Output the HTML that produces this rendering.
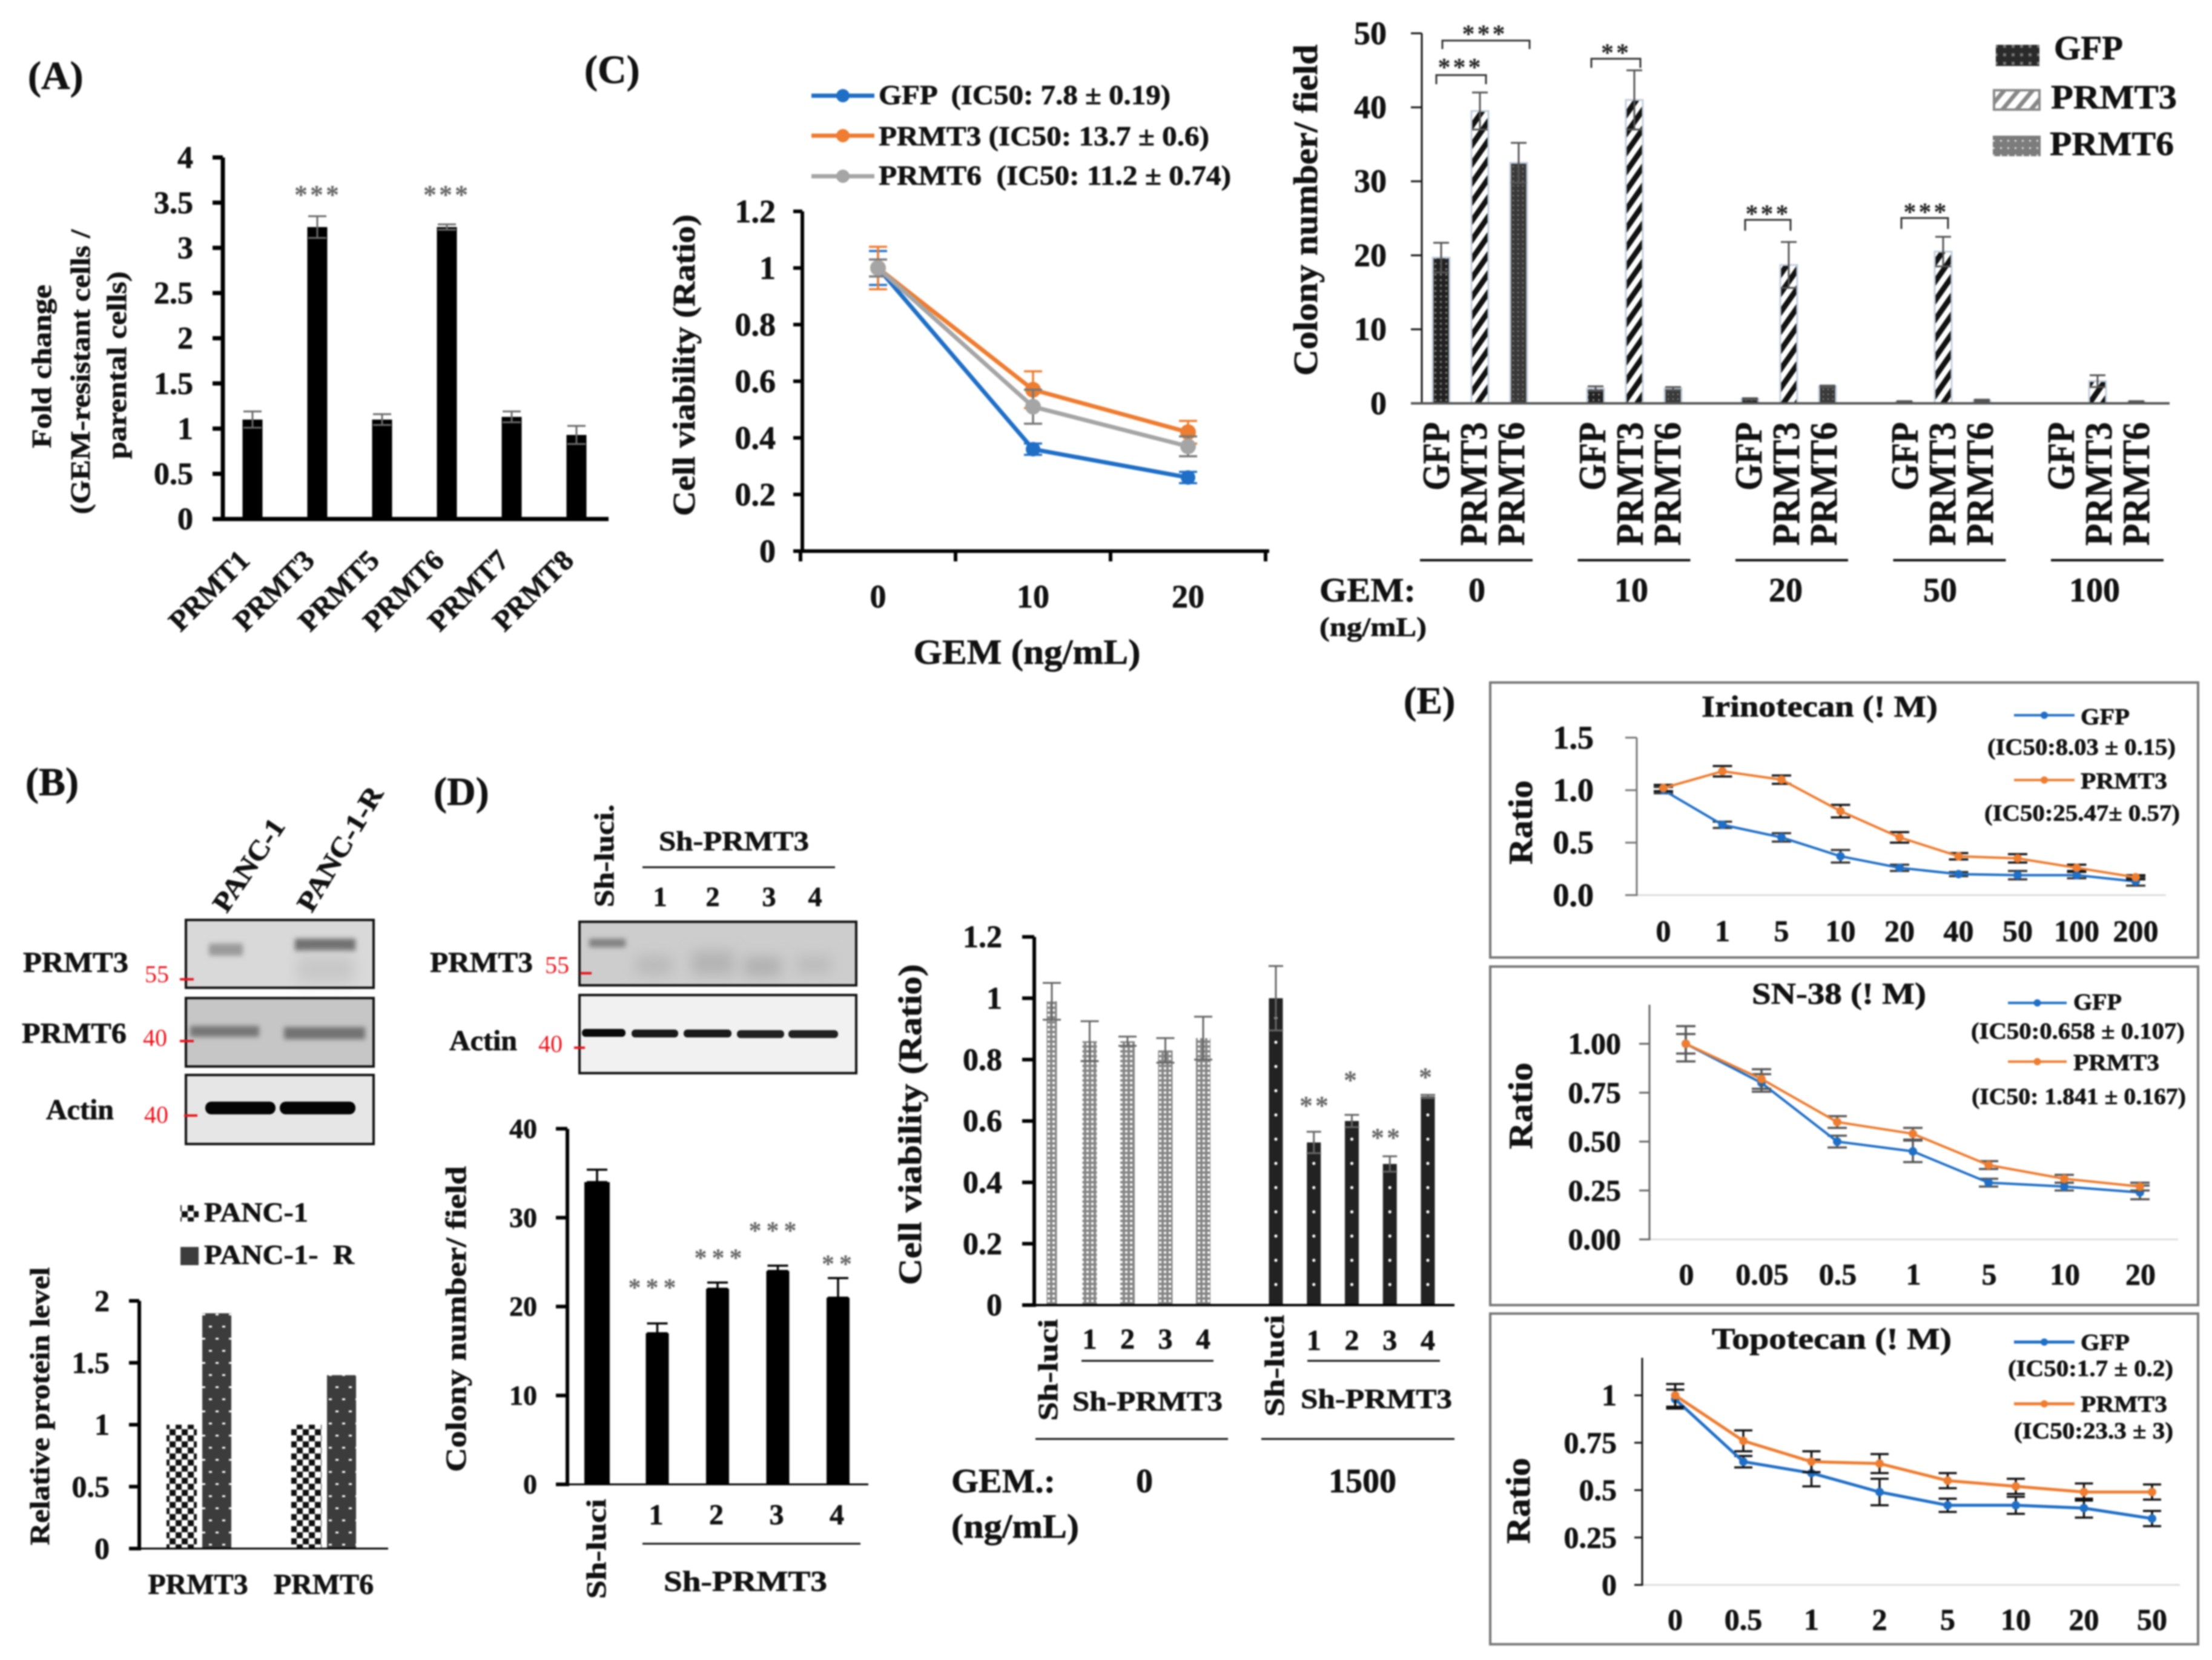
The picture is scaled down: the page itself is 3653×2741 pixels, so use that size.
<!DOCTYPE html>
<html lang="en">
<head>
<meta charset="utf-8">
<title>PRMT3 figure</title>
<style>
html,body{margin:0;padding:0;background:#fff;}
#figure{display:block;filter:blur(1.2px);}
text{font-family:"Liberation Serif",serif;font-weight:bold;fill:#111;stroke:#111;stroke-width:0.7px;white-space:pre;}
text.red{fill:#e8141c;font-weight:normal;stroke:none;}
text.star{fill:#666;letter-spacing:4px;stroke:none;}
</style>
</head>
<body>
<svg id="figure" width="3653" height="2741" viewBox="0 0 3653 2741">
<defs>
<filter id="soft" x="-20%" y="-80%" width="140%" height="260%"><feGaussianBlur stdDeviation="4"/></filter>
<filter id="wide" x="-40%" y="-80%" width="180%" height="260%"><feGaussianBlur stdDeviation="11"/></filter>
<pattern id="gfp-dots" width="9" height="9" patternUnits="userSpaceOnUse"><rect width="9" height="9" fill="#222"/><rect x="2" y="2" width="3" height="3" fill="#888"/></pattern>
<pattern id="p3-stripes" width="18" height="18" patternUnits="userSpaceOnUse" patternTransform="rotate(35)"><rect width="18" height="18" fill="#fff"/><rect width="9" height="18" fill="#111"/></pattern>
<pattern id="p6-dots" width="8" height="8" patternUnits="userSpaceOnUse"><rect width="8" height="8" fill="#3a3a3a"/><rect x="2" y="2" width="2" height="2" fill="#999"/></pattern>
<pattern id="p6-legend" width="12" height="12" patternUnits="userSpaceOnUse"><rect width="12" height="12" fill="#7c7c7c"/><rect x="3" y="3" width="3" height="3" fill="#ddd"/></pattern>
<pattern id="gfp-legend" width="14" height="14" patternUnits="userSpaceOnUse"><rect width="14" height="14" fill="#2a2a2a"/><rect x="4" y="4" width="5" height="5" fill="#777"/></pattern>
<pattern id="legend-stripes" width="18" height="18" patternUnits="userSpaceOnUse" patternTransform="rotate(40)"><rect width="18" height="18" fill="#fff"/><rect width="7" height="18" fill="#888"/></pattern>
<pattern id="checker" width="20" height="20" patternUnits="userSpaceOnUse"><rect width="20" height="20" fill="#fff"/><rect width="10" height="10" fill="#111"/><rect x="10" y="10" width="10" height="10" fill="#111"/></pattern>
<pattern id="dark-dots" width="22" height="40" patternUnits="userSpaceOnUse"><rect width="22" height="40" fill="#3c3c3c"/><rect x="4" y="9" width="5" height="3" fill="#fff"/><rect x="15" y="29" width="5" height="3" fill="#fff"/></pattern>
<pattern id="gray-check" width="8" height="8" patternUnits="userSpaceOnUse"><rect width="8" height="8" fill="#858585"/><rect x="2" y="2" width="4" height="4" fill="#fff"/></pattern>
</defs>

<!-- Panel labels -->
<text x="46" y="147" font-size="66">(A)</text>
<text x="42" y="1313" font-size="66">(B)</text>
<text x="965" y="137" font-size="66">(C)</text>
<text x="716" y="1329" font-size="66">(D)</text>
<text x="2318" y="1178" font-size="64">(E)</text>

<!-- Panel A -->
<g id="panel-a">
<text transform="rotate(-90 84 605)" x="84" y="605" text-anchor="middle" font-size="46" textLength="270" lengthAdjust="spacingAndGlyphs">Fold change</text>
<text transform="rotate(-90 148 614)" x="148" y="614" text-anchor="middle" font-size="46" textLength="470" lengthAdjust="spacingAndGlyphs">(GEM-resistant cells /</text>
<text transform="rotate(-90 208 603)" x="208" y="603" text-anchor="middle" font-size="46" textLength="310" lengthAdjust="spacingAndGlyphs">parental cells)</text>
<text class="star" x="525" y="336" text-anchor="middle" font-size="44">***</text>
<text class="star" x="738" y="336" text-anchor="middle" font-size="44">***</text>
</g>

<!-- Panel C line chart -->
<g id="panel-c-line">
<text transform="rotate(-90 1147 603)" x="1147" y="603" text-anchor="middle" font-size="52" textLength="498" lengthAdjust="spacingAndGlyphs">Cell viability (Ratio)</text>
<text x="1696" y="1096" text-anchor="middle" font-size="58" textLength="375" lengthAdjust="spacingAndGlyphs">GEM (ng/mL)</text>
<text x="1451" y="172" font-size="46" textLength="482" lengthAdjust="spacingAndGlyphs">GFP  (IC50: 7.8 ± 0.19)</text>
<text x="1451" y="240" font-size="46" textLength="546" lengthAdjust="spacingAndGlyphs">PRMT3 (IC50: 13.7 ± 0.6)</text>
<text x="1451" y="305" font-size="46" textLength="582" lengthAdjust="spacingAndGlyphs">PRMT6  (IC50: 11.2 ± 0.74)</text>
</g>

<!-- Panel C colony chart -->
<g id="panel-c-bars">
<text transform="rotate(-90 2175 347)" x="2175" y="347" text-anchor="middle" font-size="56" textLength="547" lengthAdjust="spacingAndGlyphs">Colony number/ field</text>
<text x="2179" y="993" font-size="56" textLength="159" lengthAdjust="spacingAndGlyphs">GEM:</text>
<text x="2179" y="1050" font-size="44" textLength="177" lengthAdjust="spacingAndGlyphs">(ng/mL)</text>
<rect x="3296" y="74" width="72" height="35" fill="url(#gfp-legend)"/>
<rect x="3293" y="149" width="75" height="32" fill="url(#legend-stripes)" stroke="#888" stroke-width="4"/>
<rect x="3291" y="224" width="79" height="34" fill="url(#p6-legend)"/>
<text x="3392" y="98" font-size="56" font-weight="normal" textLength="114" lengthAdjust="spacingAndGlyphs">GFP</text>
<text x="3387" y="179" font-size="56" textLength="208" lengthAdjust="spacingAndGlyphs">PRMT3</text>
<text x="3385" y="256" font-size="56" textLength="205" lengthAdjust="spacingAndGlyphs">PRMT6</text>
<path d="M2382 81V67H2526V81" fill="none" stroke="#333" stroke-width="3"/>
<path d="M2372 139V124H2454V139" fill="none" stroke="#333" stroke-width="3"/>
<path d="M2628 112V97H2709V112" fill="none" stroke="#333" stroke-width="3"/>
<path d="M2882 381V363H2957V381" fill="none" stroke="#333" stroke-width="3"/>
<path d="M3140 378V360H3217V378" fill="none" stroke="#333" stroke-width="3"/>
<text class="star" style="fill:#222" x="2452" y="70" text-anchor="middle" font-size="42">***</text>
<text class="star" style="fill:#222" x="2412" y="125" text-anchor="middle" font-size="42">***</text>
<text class="star" style="fill:#222" x="2669" y="101" text-anchor="middle" font-size="42">**</text>
<text class="star" style="fill:#222" x="2920" y="367" text-anchor="middle" font-size="42">***</text>
<text class="star" style="fill:#222" x="3181" y="364" text-anchor="middle" font-size="42">***</text>
</g>

<!-- Panel B blots -->
<g>
<text transform="rotate(-56 362 1501)" x="362" y="1516" font-size="46" textLength="175" lengthAdjust="spacingAndGlyphs" font-weight="normal">PANC-1</text>
<text transform="rotate(-59 502 1501)" x="502" y="1516" font-size="46" textLength="232" lengthAdjust="spacingAndGlyphs" font-weight="normal">PANC-1-R</text>
<rect x="307" y="1519" width="310" height="112" fill="#d9d9d9"/>
<rect x="345" y="1558" width="56" height="20" fill="#9a9a9a" filter="url(#soft)"/>
<rect x="487" y="1550" width="100" height="20" fill="#6e6e6e" filter="url(#soft)"/>
<rect x="490" y="1578" width="95" height="44" fill="#c8c8c8" filter="url(#wide)"/>
<rect x="307" y="1519" width="310" height="112" fill="none" stroke="#111" stroke-width="4"/>
<rect x="307" y="1648" width="310" height="113" fill="#c6c6c6"/>
<rect x="314" y="1694" width="114" height="18" fill="#767676" filter="url(#soft)"/>
<rect x="469" y="1696" width="134" height="20" fill="#727272" filter="url(#soft)"/>
<rect x="307" y="1648" width="310" height="113" fill="none" stroke="#111" stroke-width="4"/>
<rect x="307" y="1775" width="310" height="114" fill="#e6e6e6"/>
<rect x="339" y="1819" width="116" height="21" rx="10" fill="#050505"/>
<rect x="462" y="1819" width="125" height="21" rx="10" fill="#050505"/>
<rect x="307" y="1775" width="310" height="114" fill="none" stroke="#111" stroke-width="4"/>
<text x="38" y="1605" font-size="48" textLength="174" lengthAdjust="spacingAndGlyphs">PRMT3</text>
<text x="36" y="1722" font-size="48" textLength="173" lengthAdjust="spacingAndGlyphs">PRMT6</text>
<text x="76" y="1848" font-size="48" textLength="112" lengthAdjust="spacingAndGlyphs">Actin</text>
<text class="red" x="239" y="1622" font-size="40">55</text>
<text class="red" x="236" y="1727" font-size="40">40</text>
<text class="red" x="238" y="1854" font-size="40">40</text>
<line x1="297" x2="320" y1="1617" y2="1617" stroke="#e8141c" stroke-width="4"/>
<line x1="297" x2="320" y1="1719" y2="1719" stroke="#e8141c" stroke-width="4"/>
<line x1="304" x2="326" y1="1842" y2="1842" stroke="#e8141c" stroke-width="4"/>
</g>

<!-- Panel B chart -->
<g id="panel-b">
<text transform="rotate(-90 81 2322)" x="81" y="2322" text-anchor="middle" font-size="46" font-weight="normal" textLength="459" lengthAdjust="spacingAndGlyphs">Relative protein level</text>
<rect x="298" y="1990" width="30" height="27" fill="url(#checker)"/>
<rect x="298" y="2059" width="30" height="30" fill="#3c3c3c"/>
<text x="337" y="2017" font-size="46" textLength="172" lengthAdjust="spacingAndGlyphs">PANC-1</text>
<text x="337" y="2087" font-size="46" textLength="248" lengthAdjust="spacingAndGlyphs">PANC-1-  R</text>
</g>

<!-- Panel D blots -->
<g>
<text transform="rotate(-90 1013 1498)" x="1013" y="1498" font-size="46" font-weight="normal" textLength="170" lengthAdjust="spacingAndGlyphs">Sh-luci.</text>
<text x="1088" y="1404" font-size="46" textLength="248" lengthAdjust="spacingAndGlyphs">Sh-PRMT3</text>
<line x1="1061" x2="1379" y1="1432" y2="1432" stroke="#111" stroke-width="3"/>
<text x="1090" y="1496" text-anchor="middle" font-size="46">1</text>
<text x="1177" y="1496" text-anchor="middle" font-size="46">2</text>
<text x="1270" y="1496" text-anchor="middle" font-size="46">3</text>
<text x="1346" y="1496" text-anchor="middle" font-size="46">4</text>
<rect x="957" y="1522" width="457" height="105" fill="#cdcdcd"/>
<rect x="973" y="1550" width="60" height="14" fill="#808080" filter="url(#soft)"/>
<rect x="1050" y="1578" width="60" height="32" fill="#bababa" filter="url(#wide)"/>
<rect x="1142" y="1570" width="70" height="40" fill="#b4b4b4" filter="url(#wide)"/>
<rect x="1228" y="1580" width="62" height="32" fill="#b0b0b0" filter="url(#wide)"/>
<rect x="1315" y="1578" width="58" height="30" fill="#bcbcbc" filter="url(#wide)"/>
<rect x="957" y="1522" width="457" height="105" fill="none" stroke="#111" stroke-width="4"/>
<rect x="957" y="1643" width="457" height="129" fill="#f1f1f1"/>
<rect x="961" y="1699" width="72" height="13" rx="6" fill="#0a0a0a"/>
<rect x="1043" y="1700" width="77" height="13" rx="6" fill="#1a1a1a"/>
<rect x="1129" y="1700" width="79" height="13" rx="6" fill="#1a1a1a"/>
<rect x="1217" y="1701" width="78" height="13" rx="6" fill="#222"/>
<rect x="1302" y="1701" width="82" height="13" rx="6" fill="#222"/>
<rect x="957" y="1643" width="457" height="129" fill="none" stroke="#111" stroke-width="4"/>
<text x="710" y="1605" font-size="48" textLength="170" lengthAdjust="spacingAndGlyphs">PRMT3</text>
<text x="742" y="1734" font-size="48" textLength="112" lengthAdjust="spacingAndGlyphs">Actin</text>
<text class="red" x="900" y="1607" font-size="40">55</text>
<text class="red" x="889" y="1737" font-size="40">40</text>
<line x1="958" x2="977" y1="1607" y2="1607" stroke="#e8141c" stroke-width="4"/>
<line x1="948" x2="966" y1="1730" y2="1730" stroke="#e8141c" stroke-width="4"/>
</g>

<!-- Panel D colony chart -->
<g id="panel-d-colony">
<text transform="rotate(-90 769 2178)" x="769" y="2178" text-anchor="middle" font-size="48" font-weight="normal" textLength="505" lengthAdjust="spacingAndGlyphs">Colony number/ field</text>
<line x1="1061" x2="1421" y1="2549" y2="2549" stroke="#111" stroke-width="3"/>
<text x="1096" y="2627" font-size="48" textLength="270" lengthAdjust="spacingAndGlyphs">Sh-PRMT3</text>
<text class="star" x="1081" y="2140" text-anchor="middle" font-size="42" style="letter-spacing:8px">***</text>
<text class="star" x="1190" y="2091" text-anchor="middle" font-size="42" style="letter-spacing:8px">***</text>
<text class="star" x="1280" y="2046" text-anchor="middle" font-size="42" style="letter-spacing:8px">***</text>
<text class="star" x="1386" y="2101" text-anchor="middle" font-size="42" style="letter-spacing:8px">**</text>
</g>

<!-- Panel D viability chart -->
<g id="panel-d-viability">
<text transform="rotate(-90 1521 1857)" x="1521" y="1857" text-anchor="middle" font-size="54" textLength="530" lengthAdjust="spacingAndGlyphs">Cell viability (Ratio)</text>
<line x1="1786" x2="2004" y1="2247" y2="2247" stroke="#111" stroke-width="3"/>
<line x1="2159" x2="2378" y1="2247" y2="2247" stroke="#111" stroke-width="3"/>
<text x="1771" y="2329" font-size="46" textLength="248" lengthAdjust="spacingAndGlyphs">Sh-PRMT3</text>
<text x="2148" y="2325" font-size="46" textLength="250" lengthAdjust="spacingAndGlyphs">Sh-PRMT3</text>
<line x1="1710" x2="2028" y1="2376" y2="2376" stroke="#111" stroke-width="3"/>
<line x1="2083" x2="2402" y1="2376" y2="2376" stroke="#111" stroke-width="3"/>
<text x="1571" y="2464" font-size="56" textLength="172" lengthAdjust="spacingAndGlyphs">GEM.:</text>
<text x="1890" y="2464" text-anchor="middle" font-size="56">0</text>
<text x="2250" y="2464" text-anchor="middle" font-size="56">1500</text>
<text x="1571" y="2539" font-size="56" textLength="211" lengthAdjust="spacingAndGlyphs">(ng/mL)</text>
<text class="star" x="2172" y="1840" text-anchor="middle" font-size="44">**</text>
<text class="star" x="2232" y="1798" text-anchor="middle" font-size="44">*</text>
<text class="star" x="2290" y="1893" text-anchor="middle" font-size="44">**</text>
<text class="star" x="2356" y="1793" text-anchor="middle" font-size="44">*</text>
</g>

<!-- Panel E -->
<g id="panel-e-irinotecan">
<rect x="2461" y="1127" width="1169" height="454" fill="none" stroke="#777" stroke-width="4"/>
<text x="2810" y="1183" font-size="50" textLength="390" lengthAdjust="spacingAndGlyphs">Irinotecan (! M)</text>
<text transform="rotate(-90 2530 1358)" x="2530" y="1358" text-anchor="middle" font-size="56" textLength="139" lengthAdjust="spacingAndGlyphs">Ratio</text>
<text x="3436" y="1196" font-size="38" textLength="81" lengthAdjust="spacingAndGlyphs">GFP</text>
<text x="3282" y="1246" font-size="38" textLength="311" lengthAdjust="spacingAndGlyphs">(IC50:8.03 ± 0.15)</text>
<text x="3436" y="1302" font-size="38" textLength="143" lengthAdjust="spacingAndGlyphs">PRMT3</text>
<text x="3277" y="1355" font-size="38" textLength="323" lengthAdjust="spacingAndGlyphs">(IC50:25.47± 0.57)</text>
</g>
<g id="panel-e-sn38">
<rect x="2461" y="1596" width="1169" height="559" fill="none" stroke="#777" stroke-width="4"/>
<text x="2893" y="1657" font-size="50" textLength="288" lengthAdjust="spacingAndGlyphs">SN-38 (! M)</text>
<text transform="rotate(-90 2530 1826)" x="2530" y="1826" text-anchor="middle" font-size="56" textLength="143" lengthAdjust="spacingAndGlyphs">Ratio</text>
<text x="3424" y="1667" font-size="38" textLength="80" lengthAdjust="spacingAndGlyphs">GFP</text>
<text x="3255" y="1715" font-size="38" textLength="353" lengthAdjust="spacingAndGlyphs">(IC50:0.658 ± 0.107)</text>
<text x="3424" y="1767" font-size="38" textLength="142" lengthAdjust="spacingAndGlyphs">PRMT3</text>
<text x="3256" y="1823" font-size="38" textLength="354" lengthAdjust="spacingAndGlyphs">(IC50: 1.841 ± 0.167)</text>
</g>
<g id="panel-e-topotecan">
<rect x="2461" y="2169" width="1169" height="546" fill="none" stroke="#777" stroke-width="4"/>
<text x="2827" y="2227" font-size="50" textLength="396" lengthAdjust="spacingAndGlyphs">Topotecan (! M)</text>
<text transform="rotate(-90 2526 2478)" x="2526" y="2478" text-anchor="middle" font-size="56" textLength="142" lengthAdjust="spacingAndGlyphs">Ratio</text>
<text x="3436" y="2229" font-size="38" textLength="81" lengthAdjust="spacingAndGlyphs">GFP</text>
<text x="3316" y="2272" font-size="38" textLength="273" lengthAdjust="spacingAndGlyphs">(IC50:1.7 ± 0.2)</text>
<text x="3436" y="2331" font-size="38" textLength="143" lengthAdjust="spacingAndGlyphs">PRMT3</text>
<text x="3326" y="2375" font-size="38" textLength="263" lengthAdjust="spacingAndGlyphs">(IC50:23.3 ± 3)</text>
</g>
</svg>

<script>
// Panel A
const aCategories = ['PRMT1','PRMT3','PRMT5','PRMT6','PRMT7','PRMT8'];
const aValues = [1.1,3.23,1.1,3.23,1.13,0.93];
const aErrors = [0.09,0.12,0.06,0.03,0.06,0.1];
const aTicks = ['0','0.5','1','1.5','2','2.5','3','3.5','4'];

// Panel B chart
const bCategories = ['PRMT3','PRMT6'];
const bPanc1 = [1,1];
const bPanc1R = [1.9,1.4];
const bTicks = ['0','0.5','1','1.5','2'];

// Panel C line chart
const cDoses = ['0','10','20'];
const cGfp = [1,0.36,0.26];
const cGfpErr = [0.06,0.02,0.02];
const cPrmt3 = [1,0.57,0.42];
const cPrmt3Err = [0.075,0.065,0.04];
const cPrmt6 = [1,0.51,0.37];
const cPrmt6Err = [0.03,0.06,0.035];
const cTicks = ['0','0.2','0.4','0.6','0.8','1','1.2'];

// Panel C colony chart
const colonyDoses = ['0','10','20','50','100'];
const colonyCategories = ['GFP','PRMT3','PRMT6'];
const colonyGfp = [19.7,2,0.6,0.2,0];
const colonyGfpErr = [2,0.3,0.1,0.1,0];
const colonyPrmt3 = [39.5,41,18.7,20.5,3];
const colonyPrmt3Err = [2.5,4,3.1,2,0.8];
const colonyPrmt6 = [32.5,2,2.3,0.4,0.2];
const colonyPrmt6Err = [2.7,0.2,0.1,0.1,0.1];
const colonyTicks = ['0','10','20','30','40','50'];

// Panel D colony chart
const dColonyCategories = ['Sh-luci','1','2','3','4'];
const dColonyValues = [34,17,22,24,21];
const dColonyErrors = [1.4,1.1,0.7,0.6,2.2];
const dColonyTicks = ['0','10','20','30','40'];

// Panel D viability chart
const dViabCategories = ['Sh-luci','1','2','3','4'];
const dViabDose0 = [0.99,0.86,0.86,0.83,0.87];
const dViabDose0Err = [0.06,0.065,0.015,0.04,0.07];
const dViabDose1500 = [1,0.53,0.6,0.46,0.68];
const dViabDose1500Err = [0.105,0.035,0.02,0.025,0.005];
const dViabTicks = ['0','0.2','0.4','0.6','0.8','1','1.2'];

// Panel E
const irinoDoses = ['0','1','5','10','20','40','50','100','200'];
const irinoGfp = [1,0.67,0.55,0.37,0.26,0.2,0.19,0.19,0.13];
const irinoGfpErr = [0.03,0.03,0.04,0.06,0.03,0.02,0.04,0.03,0.04];
const irinoPrmt3 = [1.02,1.18,1.1,0.8,0.55,0.37,0.35,0.26,0.17];
const irinoPrmt3Err = [0.03,0.05,0.04,0.06,0.05,0.03,0.04,0.03,0.02];
const irinoTicks = ['0.0','0.5','1.0','1.5'];

const snDoses = ['0','0.05','0.5','1','5','10','20'];
const snGfp = [1,0.8,0.5,0.45,0.29,0.27,0.24];
const snGfpErr = [0.09,0.045,0.03,0.055,0.02,0.02,0.035];
const snPrmt3 = [1,0.82,0.6,0.54,0.38,0.31,0.27];
const snPrmt3Err = [0.05,0.05,0.03,0.03,0.02,0.02,0.02];
const snTicks = ['0.00','0.25','0.50','0.75','1.00'];

const topoDoses = ['0','0.5','1','2','5','10','20','50'];
const topoGfp = [0.98,0.65,0.59,0.49,0.42,0.42,0.405,0.35];
const topoGfpErr = [0.05,0.03,0.07,0.07,0.035,0.045,0.05,0.04];
const topoPrmt3 = [1,0.76,0.65,0.64,0.55,0.52,0.49,0.49];
const topoPrmt3Err = [0.06,0.055,0.055,0.05,0.04,0.04,0.045,0.04];
const topoTicks = ['0','0.25','0.5','0.75','1'];

const SVG_NS = 'http://www.w3.org/2000/svg';
function make(tag, attrs, parent) {
  const el = document.createElementNS(SVG_NS, tag);
  for (const k in attrs) el.setAttribute(k, attrs[k]);
  parent.appendChild(el);
  return el;
}
function drawBar(parent, x, w, yTop, yBase, fill, edge) {
  const el = make('rect', {x: x - w / 2, y: yTop, width: w, height: Math.max(0, yBase - yTop), fill: fill}, parent);
  if (edge) { el.setAttribute('stroke', edge); el.setAttribute('stroke-width', 3); }
  
  
  return el;
}
function drawError(parent, x, yHi, yLo, cap, color, sw) {
  const g = make('g', {stroke: color, 'stroke-width': sw, fill: 'none'}, parent);
  
  
  make('line', {x1: x, x2: x, y1: yHi, y2: yLo}, g);
  make('line', {x1: x - cap / 2, x2: x + cap / 2, y1: yHi, y2: yHi}, g);
  make('line', {x1: x - cap / 2, x2: x + cap / 2, y1: yLo, y2: yLo}, g);
}
function drawYAxis(parent, ticks, yFn, axisX, axisTop, tickX, labelX, size, color, sw) {
  const axis = make('line', {x1: axisX, x2: axisX, y1: axisTop, y2: yFn(0) + sw / 2, stroke: color, 'stroke-width': sw}, parent);
  
  
  ticks.forEach(function (label) {
    const y = yFn(parseFloat(label));
    const tick = make('line', {x1: tickX, x2: axisX, y1: y, y2: y, stroke: color, 'stroke-width': sw}, parent);
    
    
    const text = make('text', {x: labelX, y: y + size * 0.33, 'text-anchor': 'end', 'font-size': size}, parent);
    text.textContent = label;
    
    
  });
}
function drawXAxis(parent, x1, x2, y, color, sw) {
  const axis = make('line', {x1: x1, x2: x2, y1: y, y2: y, stroke: color, 'stroke-width': sw}, parent);
  
  
}
function drawXLabel(parent, label, x, y, size) {
  const text = make('text', {x: x, y: y, 'text-anchor': 'middle', 'font-size': size}, parent);
  text.textContent = label;
  
  
  return text;
}
function drawVerticalLabel(parent, label, cx, yStart, size, anchor, len) {
  const bx = cx + size * 0.33;
  const text = make('text', {x: bx, y: yStart, 'text-anchor': anchor, 'font-size': size, transform: 'rotate(-90 ' + bx + ' ' + yStart + ')', textLength: len, lengthAdjust: 'spacingAndGlyphs'}, parent);
  text.textContent = label;
  
  
}
function drawLineSeries(parent, values, errors, xFn, yFn, color, errColor, lw, r, cap, errW) {
  errors.forEach(function (e, i) {
    drawError(parent, xFn(i), yFn(values[i] + e), yFn(values[i] - e), cap, errColor, errW);
  });
  const line = make('polyline', {points: values.map(function (v, i) { return xFn(i) + ',' + yFn(v); }).join(' '), fill: 'none', stroke: color, 'stroke-width': lw, 'stroke-linejoin': 'round'}, parent);
  
  
  values.forEach(function (v, i) {
    const dot = make('circle', {cx: xFn(i), cy: yFn(v), r: r, fill: color}, parent);
    
    
  });
}
function drawLegendKey(parent, x1, x2, y, color, lw, r) {
  const line = make('line', {x1: x1, x2: x2, y1: y, y2: y, stroke: color, 'stroke-width': lw}, parent);
  
  
  const dot = make('circle', {cx: (x1 + x2) / 2, cy: y, r: r, fill: color}, parent);
  
  
}

const BLUE = '#1f6fc6', ORANGE = '#ed7d31', GRAY = '#a5a5a5';

// ---- Panel A ----
(function () {
  const g = document.getElementById('panel-a');
  const y = v => 857 - v * 149.25;
  const x = i => 417 + i * 107;
  aValues.forEach(function (v, i) { drawBar(g, x(i), 33, y(v), y(0), '#000'); });
  aErrors.forEach(function (e, i) { drawError(g, x(i), y(aValues[i] + e), y(aValues[i] - e), 30, '#6a6a6a', 3); });
  drawYAxis(g, aTicks, y, 368, 260, 351, 319, 52, '#000', 7);
  drawXAxis(g, 351, 1005, y(0), '#000', 7);
  aCategories.forEach(function (label, i) {
    const ax = x(i) - 2, ay = 928;
    const t = make('text', {x: ax, y: ay, 'text-anchor': 'end', 'font-size': 48, transform: 'rotate(-45 ' + ax + ' ' + ay + ')'}, g);
    t.textContent = label;
    
    
  });
})();

// ---- Panel B ----
(function () {
  const g = document.getElementById('panel-b');
  const y = v => 2557 - v * 204.5;
  const x = (c, s) => 300 + c * 206 + s * 58;
  bPanc1.forEach(function (v, c) { drawBar(g, x(c, 0), 50, y(v), y(0), 'url(#checker)'); });
  bPanc1R.forEach(function (v, c) { drawBar(g, x(c, 1), 48, y(v), y(0), 'url(#dark-dots)'); });
  drawYAxis(g, bTicks, y, 230, 2148, 213, 181, 50, '#000', 6);
  drawXAxis(g, 213, 641, y(0), '#000', 3);
  bCategories.forEach(function (label, c) { drawXLabel(g, label, 327 + c * 207.5, 2632, 48); });
})();

// ---- Panel C line ----
(function () {
  const g = document.getElementById('panel-c-line');
  const y = v => 910 - v * 467.5;
  const x = i => 1450 + i * 256;
  drawYAxis(g, cTicks, y, 1325, 349, 1310, 1281, 54, '#000', 6);
  drawXAxis(g, 1310, 2096, y(0), '#000', 6);
  for (let i = 0; i <= cDoses.length; i++) {
    const tx = x(i) - 128;
    const tick = make('line', {x1: tx, x2: tx, y1: y(0), y2: 927, stroke: '#000', 'stroke-width': 6}, g);
    
    
  }
  cDoses.forEach(function (label, i) { drawXLabel(g, label, x(i), 1003, 54); });
  drawLineSeries(g, cGfp, cGfpErr, x, y, BLUE, BLUE, 7, 12, 30, 3.5);
  drawLineSeries(g, cPrmt3, cPrmt3Err, x, y, ORANGE, ORANGE, 7, 13, 30, 3.5);
  drawLineSeries(g, cPrmt6, cPrmt6Err, x, y, GRAY, '#777', 7, 13, 30, 3.5);
  drawLegendKey(g, 1340, 1444, 158, BLUE, 7, 11);
  drawLegendKey(g, 1340, 1444, 224, ORANGE, 7, 11);
  drawLegendKey(g, 1340, 1444, 291, GRAY, 7, 11);
})();

// ---- Panel C colony bars ----
(function () {
  const g = document.getElementById('panel-c-bars');
  const y = v => 666 - v * 12.22;
  const x = (d, s) => 2444 + d * 255 + (s - 1) * 64;
  const labelX = (d, s) => 2434 + d * 258 + (s - 1) * 62;
  const series = [
    {values: colonyGfp, errors: colonyGfpErr, fill: 'url(#gfp-dots)'},
    {values: colonyPrmt3, errors: colonyPrmt3Err, fill: 'url(#p3-stripes)'},
    {values: colonyPrmt6, errors: colonyPrmt6Err, fill: 'url(#p6-dots)'}
  ];
  series.forEach(function (s, si) {
    s.values.forEach(function (v, d) {
      if (v > 0) drawBar(g, x(d, si), 28, y(v), y(0), s.fill, '#c3cedb');
    });
  });
  series.forEach(function (s, si) {
    s.errors.forEach(function (e, d) {
      if (e > 0) drawError(g, x(d, si), y(s.values[d] + e), y(Math.max(0, s.values[d] - e)), 26, '#555', 3);
    });
  });
  drawYAxis(g, colonyTicks, y, 2348, 55, 2330, 2290, 54, '#111', 3);
  drawXAxis(g, 2330, 3583, y(0), '#555', 4);
  colonyDoses.forEach(function (dose, d) {
    colonyCategories.forEach(function (label, si) {
      const len = label.length === 3 ? 113 : 204;
      drawVerticalLabel(g, label, labelX(d, si), 697, 64, 'end', len);
    });
    const rule = make('line', {x1: 2345 + d * 260.5, x2: 2531 + d * 260.5, y1: 925, y2: 925, stroke: '#111', 'stroke-width': 4}, g);
    
    
    drawXLabel(g, dose, x(d, 1) - 5, 993, 56);
  });
})();

// ---- Panel D colony ----
(function () {
  const g = document.getElementById('panel-d-colony');
  const y = v => 2451 - v * 14.68;
  const x = i => 986 + i * 99.5;
  dColonyValues.forEach(function (v, i) { drawBar(g, x(i), i === 0 ? 42 : 38, y(v), y(0), '#000'); });
  dColonyErrors.forEach(function (e, i) { drawError(g, x(i), y(dColonyValues[i] + e), y(dColonyValues[i]), 34, '#000', 3.5); });
  drawYAxis(g, dColonyTicks, y, 937, 1864, 918, 887, 46, '#000', 6);
  drawXAxis(g, 918, 1434, y(0), '#000', 3);
  dColonyCategories.forEach(function (label, i) {
    if (i === 0) drawVerticalLabel(g, label, x(i) - 1, 2640, 46, 'start', 165);
    else drawXLabel(g, label, x(i) - 2, 2517, 48);
  });
})();

// ---- Panel D viability ----
(function () {
  const g = document.getElementById('panel-d-viability');
  const y = v => 2155 - v * 506.7;
  const xA = i => 1737 + i * 62.5;
  const xB = i => 2107 + i * 62.75;
  dViabDose0.forEach(function (v, i) { drawBar(g, xA(i), i === 0 ? 17 : 24, y(v), y(0), 'url(#gray-check)'); });
  dViabDose1500.forEach(function (v, i) {
    drawBar(g, xB(i), 23, y(v), y(0), '#222');
    for (let dy = y(0) - 34; dy > y(v) + 8; dy -= 40) {
      const dot = make('circle', {cx: xB(i), cy: dy, r: 2.6, fill: '#fff'}, g);
      
      
    }
  });
  dViabDose0Err.forEach(function (e, i) { drawError(g, xA(i), y(dViabDose0[i] + e), y(dViabDose0[i] - e), 30, '#666', 3); });
  dViabDose1500Err.forEach(function (e, i) { drawError(g, xB(i), y(dViabDose1500[i] + e), y(dViabDose1500[i] - e), 24, '#666', 3); });
  drawYAxis(g, dViabTicks, y, 1708, 1547, 1688, 1655, 52, '#000', 6);
  drawXAxis(g, 1688, 2402, y(0), '#000', 4);
  dViabCategories.forEach(function (label, i) {
    if (i === 0) {
      drawVerticalLabel(g, label, xA(i) - 6, 2346, 46, 'start', 168);
      drawVerticalLabel(g, label, xB(i) - 2, 2339, 46, 'start', 168);
    } else {
      drawXLabel(g, label, xA(i), 2227, 48);
      drawXLabel(g, label, xB(i), 2229, 48);
    }
  });
})();

// ---- Panel E ----
(function () {
  const ir = document.getElementById('panel-e-irinotecan');
  const yIr = v => 1478 - v * 173.3;
  const xIr = i => 2747 + i * 97.5;
  drawXAxis(ir, 2703, 3577, yIr(0), '#ddd', 3);
  drawYAxis(ir, irinoTicks, yIr, 2703, 1218, 2684, 2632, 54, '#777', 3);
  irinoDoses.forEach(function (label, i) { drawXLabel(ir, label, xIr(i), 1554, 50); });
  drawLineSeries(ir, irinoGfp, irinoGfpErr, xIr, yIr, BLUE, '#333', 4, 7, 32, 3.5);
  drawLineSeries(ir, irinoPrmt3, irinoPrmt3Err, xIr, yIr, ORANGE, '#111', 4, 7, 32, 3.5);
  drawLegendKey(ir, 3326, 3426, 1181, BLUE, 4, 6);
  drawLegendKey(ir, 3326, 3426, 1288, ORANGE, 4, 6);

  const sn = document.getElementById('panel-e-sn38');
  const ySn = v => 2046.5 - v * 323;
  const xSn = i => 2784 + i * 125;
  drawXAxis(sn, 2724, 3597, ySn(0), '#ddd', 3);
  drawYAxis(sn, snTicks, ySn, 2724, 1659, 2707, 2677, 50, '#666', 3);
  snDoses.forEach(function (label, i) { drawXLabel(sn, label, xSn(i) + 1, 2121, 50); });
  drawLineSeries(sn, snGfp, snGfpErr, xSn, ySn, BLUE, '#555', 4, 7, 32, 3.5);
  drawLineSeries(sn, snPrmt3, snPrmt3Err, xSn, ySn, ORANGE, '#555', 4, 7, 32, 3.5);
  drawLegendKey(sn, 3316, 3413, 1656, BLUE, 4, 6);
  drawLegendKey(sn, 3316, 3413, 1753, ORANGE, 4, 6);

  const tp = document.getElementById('panel-e-topotecan');
  const yTp = v => 2617 - v * 313;
  const xTp = i => 2766.5 + i * 112.5;
  drawXAxis(tp, 2712, 3600, yTp(0), '#ddd', 3);
  drawYAxis(tp, topoTicks, yTp, 2712, 2242, 2699, 2670, 50, '#111', 3);
  topoDoses.forEach(function (label, i) { drawXLabel(tp, label, xTp(i), 2691, 50); });
  drawLineSeries(tp, topoGfp, topoGfpErr, xTp, yTp, BLUE, '#111', 5, 7, 30, 3.5);
  drawLineSeries(tp, topoPrmt3, topoPrmt3Err, xTp, yTp, ORANGE, '#111', 5, 7, 30, 3.5);
  drawLegendKey(tp, 3326, 3426, 2216, BLUE, 5, 6);
  drawLegendKey(tp, 3326, 3426, 2318, ORANGE, 5, 6);
})();
</script>
</body>
</html>
